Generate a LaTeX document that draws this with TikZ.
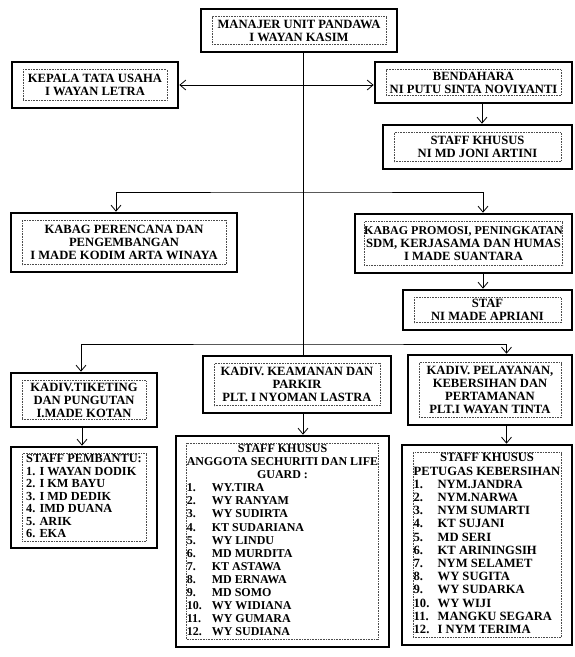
\documentclass[tikz,border=0pt]{standalone}
\usepackage{fontspec}
\setmainfont{Liberation Serif}
\usepackage{tikz}
\usetikzlibrary{arrows.meta}
\newcommand{\unitbox}[6]{
  % #1 name, #2 left, #3 top, #4 right, #5 bottom, #6 text
  \node[unit, minimum width={(#4-#2)*1pt}, minimum height={(#5-#3)*1pt}]
    (#1) at ({(#2+#4)/2}, {(#3+#5)/2}) {};
  \node[unitin, minimum width={(#4-#2-22)*1pt}, minimum height={(#5-#3-15)*1pt}]
    (#1-in) at (#1.center) {#6};
}

\begin{document}
\begin{tikzpicture}[x=1pt, y=-1pt,
  unit/.style={draw, line width=2.6pt, inner sep=0pt},
  unitin/.style={draw=black!70, densely dotted, line width=0.6pt, inner sep=0pt,
                 align=center, font=\fontsize{12.6}{13}\selectfont\bfseries},
  link/.style={line width=0.8pt},
  barb/.tip={Straight Barb[length=6pt, width=10pt]}]

  \useasboundingbox (0, 0) rectangle (574, 657);

  \unitbox{man}{201}{9}{397}{52}{MANAJER UNIT PANDAWA\\I WAYAN KASIM}
  \unitbox{tu}{12}{62}{178}{108}{KEPALA TATA USAHA\\I WAYAN LETRA}
  \unitbox{bend}{375}{62}{572}{103}{BENDAHARA\\NI PUTU SINTA NOVIYANTI}
  \unitbox{joni}{383}{125}{572}{169}{STAFF KHUSUS\\NI MD JONI ARTINI}
  \unitbox{renc}{11}{213}{237}{272}{KABAG PERENCANA DAN\\PENGEMBANGAN\\I MADE KODIM ARTA WINAYA}
  \unitbox{promo}{355}{214}{572}{273}{\fontsize{12}{13}\selectfont
    KABAG PROMOSI, PENINGKATAN\\SDM, KERJASAMA DAN HUMAS\\I MADE SUANTARA}
  \unitbox{apri}{403}{290}{572}{330}{STAF\\NI MADE APRIANI}
  \unitbox{tiket}{11}{373}{157}{427}{KADIV.TIKETING\\DAN PUNGUTAN\\I.MADE KOTAN}
  \unitbox{kam}{203}{356}{391}{413}{KADIV. KEAMANAN DAN\\PARKIR\\PLT. I NYOMAN LASTRA}
  \unitbox{layan}{408}{355}{572}{425}{KADIV. PELAYANAN,\\KEBERSIHAN DAN\\PERTAMANAN\\PLT.I WAYAN TINTA}

  \unitbox{bantu}{11}{447}{157}{548}{\fontsize{12.3}{12.5}\selectfont
    \begin{tabular}{@{}l@{}}
      STAFF PEMBANTU:\\
      1. I WAYAN DODIK\\
      2. I KM BAYU\\
      3. I MD DEDIK\\
      4. IMD DUANA\\
      5. ARIK\\
      6. EKA
    \end{tabular}}

  \unitbox{sec}{176}{436}{389}{647}{\fontsize{12}{13.1}\selectfont
    \begin{tabular}{@{}p{25pt}@{}l@{}}
      \multicolumn{2}{@{}c@{}}{STAFF KHUSUS}\\
      \multicolumn{2}{@{}c@{}}{ANGGOTA SECHURITI DAN LIFE}\\
      \multicolumn{2}{@{}c@{}}{GUARD :}\\
      1. & WY.TIRA\\
      2. & WY RANYAM\\
      3. & WY SUDIRTA\\
      4. & KT SUDARIANA\\
      5. & WY LINDU\\
      6. & MD MURDITA\\
      7. & KT ASTAWA\\
      8. & MD ERNAWA\\
      9. & MD SOMO\\
      10. & WY WIDIANA\\
      11. & WY GUMARA\\
      12. & WY SUDIANA
    \end{tabular}}

  \unitbox{bersih}{402}{445}{572}{645}{\fontsize{12.6}{13.2}\selectfont
    \begin{tabular}{@{}p{24pt}@{}l@{}}
      \multicolumn{2}{@{}c@{}}{STAFF KHUSUS}\\
      \multicolumn{2}{@{}c@{}}{PETUGAS KEBERSIHAN}\\
      1. & NYM.JANDRA\\
      2. & NYM.NARWA\\
      3. & NYM SUMARTI\\
      4. & KT SUJANI\\
      5. & MD SERI\\
      6. & KT ARININGSIH\\
      7. & NYM SELAMET\\
      8. & WY SUGITA\\
      9. & WY SUDARKA\\
      10. & WY WIJI\\
      11. & MANGKU SEGARA\\
      12. & I NYM TERIMA
    \end{tabular}}

  % trunk and branches
  \coordinate (jplan) at (303, 192);
  \coordinate (jdiv) at (303, 344);
  \draw[link] ([xshift=4pt]man.south) -- ([xshift=6pt]kam.north);
  \draw[link, barb-barb] (tu.east) -- (tu.east -| bend.west);
  \draw[link, barb-barb] ([xshift=-8pt]renc.north) |- (jplan) -| ([xshift=19.5pt]promo.north);
  \draw[link, barb-barb] ([xshift=-3pt]tiket.north) |- (jdiv) -| ([xshift=16.5pt]layan.north);

  % down to the staff
  \draw[link, -barb] ([xshift=8.5pt]bend.south) -- ([xshift=8.5pt]bend.south |- joni.north);
  \draw[link, -barb] ([xshift=19.5pt]promo.south) -- ([xshift=19.5pt]promo.south |- apri.north);
  \draw[link, -barb] ([xshift=-2pt]tiket.south) -- ([xshift=-2pt]tiket.south |- bantu.north);
  \draw[link, -barb] ([xshift=6pt]kam.south) -- ([xshift=6pt]kam.south |- sec.north);
  \draw[link, -barb] ([xshift=16.5pt]layan.south) -- ([xshift=16.5pt]layan.south |- bersih.north);

\end{tikzpicture}
\end{document}
